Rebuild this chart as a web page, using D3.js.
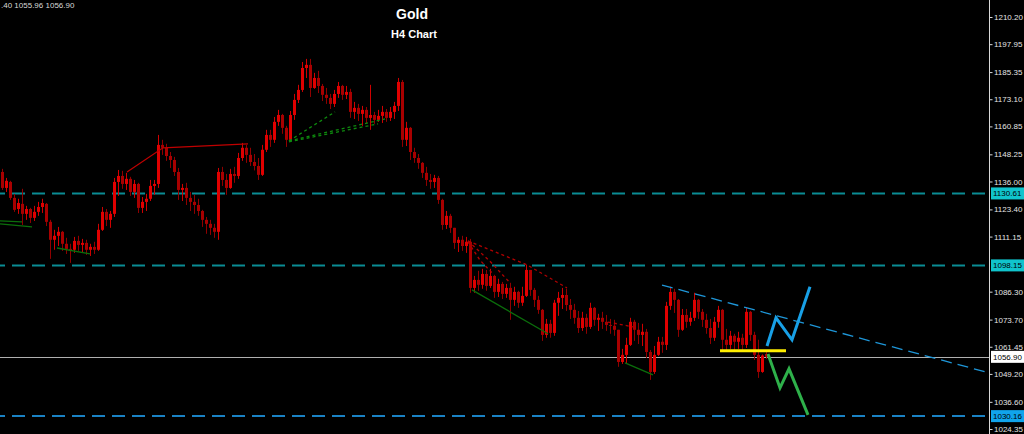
<!DOCTYPE html>
<html><head><meta charset="utf-8">
<script src="https://cdn.jsdelivr.net/npm/d3@7"></script>
<style>html,body{margin:0;padding:0;background:#000;overflow:hidden}</style>
</head><body><svg id="c" width="1024" height="434"></svg>
<script>
// ---- data (Gold H4) ----
const open=[1140.3,1133.1,1135.8,1128.6,1123.6,1125.9,1121.4,1123.6,1119.6,1122.3,1124.5,1125.9,1117.8,1109.7,1111.5,1113.3,1107.9,1105.6,1105.2,1109.2,1107.4,1108.3,1105.2,1106.5,1105.2,1114.2,1122.3,1118.7,1121.4,1135.8,1138.5,1134.9,1137.2,1131.3,1134.9,1124.1,1126.8,1128.2,1134.0,1134.9,
1152.5,1151.2,1147.5,1145.7,1140.3,1132.2,1133.1,1128.6,1126.8,1125.4,1122.7,1118.7,1116.9,1115.1,1113.3,1140.3,1136.7,1133.1,1139.4,1138.5,
1146.6,1151.2,1148.0,1144.8,1143.0,1139.0,1150.3,1157.0,1154.8,1162.9,1166.0,1160.2,1154.8,1166.0,1172.8,1177.3,1187.2,1188.6,1178.2,1182.7,
1179.1,1175.1,1173.7,1171.0,1175.5,1179.1,1175.1,1176.4,1167.4,1169.2,1166.5,1168.3,1164.7,1166.0,1163.8,1165.6,1167.4,1164.7,1167.4,1170.1,
1180.9,1154.8,1160.2,1149.3,1146.6,1144.4,1139.9,1136.7,1135.8,1137.6,1127.7,1116.4,1120.5,1115.1,1108.3,1109.7,1106.9,1108.8,1088.0,1091.6,
1089.4,1094.3,1088.9,1093.4,1086.2,1089.8,1085.3,1088.0,1082.6,1086.2,1081.3,1084.4,1096.1,1087.1,1082.6,1078.1,1066.8,1071.8,1067.7,1081.3,
1083.5,1084.8,1080.3,1078.1,1074.5,1069.9,1074.5,1070.4,1079.0,1073.6,1074.5,1072.7,1071.3,1070.9,1069.1,1054.6,1057.8,1062.3,1072.7,1069.1,
1066.8,1068.2,1059.1,1050.1,1057.8,1063.7,1062.3,1079.9,1086.2,1082.6,1069.1,1075.8,1072.7,1074.5,1082.6,1077.2,1073.6,1069.9,1065.5,1072.7,
1078.1,1064.6,1062.3,1066.4,1063.7,1065.5,1062.3,1077.2,1066.8,1057.8,1050.1,1058.2];
const high=[1141.7,1137.6,1136.3,1130.4,1128.2,1132.7,1125.0,1124.1,1125.0,1126.8,1128.2,1126.3,1118.7,1114.2,1115.5,1113.7,1110.6,1107.9,1111.0,1111.5,
1110.1,1109.7,1107.9,1108.8,1116.9,1124.5,1123.6,1122.7,1137.6,1141.2,1140.8,1139.9,1138.1,1136.7,1135.4,1129.0,1130.4,1136.7,1136.7,1157.0,
1154.8,1153.0,1149.3,1147.1,1142.1,1134.9,1135.4,1131.3,1130.0,1128.2,1123.2,1120.0,1118.7,1116.9,1142.1,1142.6,1139.4,1141.7,1142.6,1148.9,
1153.4,1152.5,1151.2,1148.4,1146.6,1152.5,1159.3,1159.3,1165.1,1168.3,1166.5,1161.1,1167.8,1175.5,1179.6,1189.9,1191.3,1191.3,1185.0,1185.9,
1180.0,1178.2,1175.5,1177.3,1180.9,1179.6,1179.1,1177.8,1171.9,1171.0,1170.1,1169.6,1179.6,1167.4,1168.3,1170.1,1168.7,1169.6,1171.9,1182.7,
1181.8,1162.9,1160.6,1151.2,1148.4,1144.8,1142.6,1139.4,1139.0,1138.5,1128.2,1122.7,1121.4,1115.1,1111.0,1111.5,1111.0,1110.1,1093.4,1095.7,
1096.6,1096.1,1096.6,1093.9,1092.1,1090.7,1089.8,1090.3,1088.5,1086.7,1088.5,1098.4,1096.1,1088.0,1084.4,1078.5,1074.0,1073.6,1082.6,1086.2,
1088.0,1087.6,1083.0,1080.8,1077.6,1077.2,1076.3,1081.3,1079.4,1076.3,1077.2,1075.8,1074.0,1073.6,1069.1,1060.5,1065.5,1074.5,1073.6,1072.2,
1071.8,1069.5,1060.0,1061.8,1065.9,1065.9,1081.7,1088.5,1087.6,1083.0,1078.5,1078.5,1077.2,1085.8,1083.0,1078.5,1076.3,1074.0,1074.9,1079.9,
1078.5,1069.5,1068.6,1067.3,1068.2,1067.3,1079.0,1077.6,1068.2,1064.6,1058.0,1059.4];
const low=[1132.2,1131.3,1127.7,1122.3,1121.4,1116.4,1118.7,1117.3,1118.2,1120.5,1121.8,1115.9,1101.1,1105.2,1106.9,1104.7,1103.3,1099.3,1103.8,1104.7,
1103.8,1102.9,1102.4,1103.3,1104.7,1113.7,1115.9,1115.1,1120.0,1129.5,1132.7,1132.2,1129.5,1128.6,1121.8,1121.8,1122.7,1127.2,1130.0,1133.1,
1148.0,1145.3,1142.1,1138.5,1127.7,1127.2,1125.4,1122.7,1121.4,1120.5,1115.5,1112.4,1111.9,1110.6,1109.7,1134.0,1130.0,1132.7,1135.4,1137.2,
1145.3,1144.4,1143.0,1141.0,1136.7,1138.5,1149.3,1151.6,1153.4,1161.1,1157.5,1151.6,1154.3,1163.8,1171.4,1176.4,1182.7,1174.1,1177.8,1175.9,
1172.3,1171.0,1168.7,1169.6,1173.7,1172.8,1173.2,1164.7,1164.2,1163.3,1161.1,1162.0,1159.3,1162.0,1162.9,1162.4,1162.9,1163.3,1164.2,1167.8,
1151.6,1152.0,1145.7,1144.4,1141.7,1137.6,1134.0,1132.7,1133.1,1125.9,1114.2,1114.6,1112.8,1105.6,1104.2,1104.7,1103.8,1085.8,1085.8,1086.7,
1087.6,1086.7,1088.0,1083.5,1083.9,1083.0,1083.5,1073.6,1079.9,1079.0,1079.9,1083.9,1084.4,1079.4,1076.3,1064.1,1065.5,1065.5,1066.4,1075.4,
1078.5,1077.6,1074.0,1071.8,1067.7,1068.6,1067.3,1069.5,1070.9,1068.6,1069.5,1068.6,1067.3,1066.4,1052.4,1053.7,1053.7,1061.8,1064.1,1062.7,
1061.8,1056.4,1046.5,1049.2,1057.3,1058.7,1060.0,1078.1,1076.7,1065.9,1068.6,1070.0,1070.9,1073.1,1074.0,1070.4,1067.3,1062.7,1064.1,1070.0,
1060.0,1059.6,1060.5,1059.6,1060.5,1059.6,1060.9,1064.1,1055.5,1047.4,1049.7,1055.96];
const close=[1133.1,1136.3,1128.6,1123.2,1126.3,1121.4,1123.6,1119.6,1122.3,1124.5,1126.3,1117.8,1109.7,1111.5,1113.3,1107.9,1105.6,1105.2,1109.2,1107.4,
1108.3,1105.2,1106.5,1105.2,1114.2,1122.3,1118.7,1121.4,1135.8,1138.5,1134.9,1137.2,1131.3,1134.9,1124.1,1126.8,1128.2,1134.0,1134.9,1152.5,
1151.2,1147.5,1145.7,1140.3,1132.2,1133.1,1128.6,1126.8,1125.4,1122.7,1118.7,1116.9,1115.1,1113.3,1140.3,1136.7,1133.1,1139.4,1138.5,1146.6,
1151.2,1148.0,1144.8,1143.0,1139.0,1150.3,1157.0,1154.8,1162.9,1166.0,1160.2,1154.8,1166.0,1172.8,1177.3,1187.2,1188.6,1178.2,1182.7,1179.1,
1175.1,1173.7,1171.0,1175.5,1179.1,1175.1,1176.4,1167.4,1169.2,1166.5,1168.3,1164.7,1166.0,1163.8,1165.6,1167.4,1164.7,1167.4,1170.1,1180.9,
1154.8,1160.2,1149.3,1146.6,1144.4,1139.9,1136.7,1135.8,1137.6,1127.7,1116.4,1120.5,1115.1,1108.3,1109.7,1106.9,1108.8,1088.0,1091.6,1089.4,
1094.3,1088.9,1093.4,1086.2,1089.8,1085.3,1088.0,1082.6,1086.2,1081.3,1084.4,1096.1,1087.1,1082.6,1078.1,1066.8,1071.8,1067.7,1081.3,1083.5,
1084.8,1080.3,1078.1,1074.5,1069.9,1074.5,1070.4,1079.0,1073.6,1074.5,1072.7,1071.3,1070.9,1069.1,1054.6,1057.8,1062.3,1072.7,1069.1,1066.8,
1068.2,1059.1,1050.1,1057.8,1063.7,1062.3,1079.9,1086.2,1082.6,1069.1,1075.8,1072.7,1074.5,1082.6,1077.2,1073.6,1069.9,1065.5,1072.7,1078.1,
1064.6,1062.3,1066.4,1063.7,1065.5,1062.3,1077.2,1066.8,1057.8,1050.1,1057.5,1056.9];

const tickValues=[1210.20,1197.95,1185.35,1173.10,1160.85,1148.25,1136.00,1123.40,1111.15,1086.30,1073.70,1061.45,1049.20,1036.60,1024.35];
const supportLevels=[1130.61,1098.15];
const targetLevel=1030.16;
const bidPrice=1056.90;
const headerText=".40 1055.96 1056.90";
// drawn lines: [candle index, price]
const redSolid=[[31.25,1140.3],[40.25,1151.2],[61.5,1153.0]];
const greenSolid=[
  [[-0.5,1118.2],[5,1117.8]],
  [[-0.5,1116.9],[7.5,1115.5]],
  [[13.75,1106.0],[22,1103.3]],
  [[117.5,1087.1],[136.5,1067.3]],
  [[155.75,1054.2],[162.75,1048.8]]];
const greenDashed=[
  [[71.75,1154.3],[83.25,1167.4]],
  [[71.75,1154.3],[95.75,1164.2]],
  [[71.75,1153.9],[94,1162.0]]];
const redDashed=[
  [[116.5,1109.2],[131.25,1098.4],[141.25,1088.0]],
  [[116.5,1109.2],[122,1100.0],[127,1090.3]],
  [[116.5,1108.8],[119.5,1100.5],[122.5,1094.8]],
  [[151.5,1072.6],[157.75,1070.4]]];
const blueTrend=[[165,1089.3],[246.75,1049.7]];
const yellowLine=[[179.5,1059.6],[196,1059.6]];
const blueZig=[[191.25,1061.8],[193.5,1074.5],[197.5,1064.6],[202,1088.5]];
const greenZig=[[191.5,1058.2],[194.5,1042.9],[196.75,1051.5],[201.5,1030.7]];

// ---- drawing ----
const W=1024,H=434,plotR=989;
const FONT="Liberation Sans, Arial, sans-serif";
const svg=d3.select("#c");
svg.append("rect").attr("width",W).attr("height",H).attr("fill","#000");
const x=d3.scaleLinear().domain([0,246.75]).range([2,989]);
const y=d3.scaleLinear().domain([1210.20,1024.35]).range([17,429]);

svg.append("clipPath").attr("id","plot").append("rect").attr("x",0).attr("y",0).attr("width",plotR).attr("height",H);
const g=svg.append("g").attr("clip-path","url(#plot)");

// horizontal levels
supportLevels.forEach(v=>{
  g.append("line").attr("x1",0).attr("x2",plotR).attr("y1",y(v)).attr("y2",y(v))
   .attr("stroke","#0a8c94").attr("stroke-width",2).attr("stroke-dasharray","13,7").attr("stroke-dashoffset",-12);
});
g.append("line").attr("x1",0).attr("x2",plotR).attr("y1",y(targetLevel)).attr("y2",y(targetLevel))
 .attr("stroke","#1a82c4").attr("stroke-width",2).attr("stroke-dasharray","13,7").attr("stroke-dashoffset",-12);
g.append("line").attr("x1",0).attr("x2",plotR).attr("y1",Math.round(y(bidPrice))+0.5).attr("y2",Math.round(y(bidPrice))+0.5)
 .attr("stroke","#b0b0b0").attr("stroke-width",1);

// candles
const idx=d3.range(open.length);
g.selectAll("line.wick").data(idx).join("line").attr("class","wick")
 .attr("x1",i=>Math.round(x(i))+0.5).attr("x2",i=>Math.round(x(i))+0.5)
 .attr("y1",i=>y(high[i])).attr("y2",i=>y(low[i]))
 .attr("stroke",i=>close[i]>=open[i]?"#d00000":"#900000").attr("stroke-width",1);
g.selectAll("rect.body").data(idx).join("rect").attr("class","body")
 .attr("x",i=>Math.round(x(i))-1).attr("width",3)
 .attr("y",i=>y(Math.max(open[i],close[i])))
 .attr("height",i=>Math.max(1,Math.abs(y(open[i])-y(close[i]))))
 .attr("fill",i=>close[i]>=open[i]?"#e00000":"#a80000");

const line=d3.line().x(d=>x(d[0])).y(d=>y(d[1]));
g.append("path").attr("d",line(redSolid)).attr("fill","none").attr("stroke","#c00000").attr("stroke-width",1.2);
greenSolid.forEach(s=>g.append("path").attr("d",line(s)).attr("fill","none").attr("stroke","#0b6e0b").attr("stroke-width",1.3));
greenDashed.forEach(s=>g.append("path").attr("d",line(s)).attr("fill","none").attr("stroke","#0e8a0e").attr("stroke-width",1.3).attr("stroke-dasharray","3,3"));
redDashed.forEach(s=>g.append("path").attr("d",line(s)).attr("fill","none").attr("stroke","#b00000").attr("stroke-width",1.3).attr("stroke-dasharray","3,3"));
g.append("path").attr("d",line(blueTrend)).attr("fill","none").attr("stroke","#1e96d8").attr("stroke-width",1.3).attr("stroke-dasharray","11,6");
g.append("path").attr("d",line(yellowLine)).attr("fill","none").attr("stroke","#ffee00").attr("stroke-width",3);
g.append("path").attr("d",line(blueZig)).attr("fill","none").attr("stroke","#18a0e6").attr("stroke-width",3).attr("stroke-linejoin","miter");
g.append("path").attr("d",line(greenZig)).attr("fill","none").attr("stroke","#2eb04a").attr("stroke-width",3).attr("stroke-linejoin","miter");

// right price axis
const axis=d3.axisRight(y).tickValues(tickValues).tickSize(3).tickPadding(1.5).tickFormat(d3.format(".2f"));
const ag=svg.append("g").attr("transform",`translate(${plotR+0.5},0)`).call(axis);
ag.select(".domain").attr("stroke","#d8d8d8").attr("d",`M0,0V${H}`);
ag.selectAll(".tick line").attr("stroke","#d8d8d8");
ag.selectAll(".tick text").attr("fill","#e4e4e4").attr("font-family",FONT).attr("font-size",8);

function priceTag(v,bg){
  const yy=y(v);
  svg.append("rect").attr("x",plotR+2).attr("y",yy-6).attr("width",W-plotR-2).attr("height",12).attr("fill",bg);
  svg.append("text").attr("x",plotR+4).attr("y",yy).attr("dy","0.35em").text(d3.format(".2f")(v))
   .attr("fill","#000").attr("font-family",FONT).attr("font-size",8);
}
supportLevels.forEach(v=>priceTag(v,"#10c4cc"));
priceTag(bidPrice,"#ffffff");
priceTag(targetLevel,"#10a4ec");

// header & title
svg.append("text").attr("x",1).attr("y",8).text(headerText)
 .attr("fill","#d8d8d8").attr("font-family",FONT).attr("font-size",8);
svg.append("text").attr("x",412).attr("y",19).attr("text-anchor","middle").text("Gold")
 .attr("fill","#fff").attr("font-family",FONT).attr("font-weight","bold").attr("font-size",14);
svg.append("text").attr("x",414).attr("y",38).attr("text-anchor","middle").text("H4 Chart")
 .attr("fill","#fff").attr("font-family",FONT).attr("font-weight","bold").attr("font-size",11);
</script></body></html>
